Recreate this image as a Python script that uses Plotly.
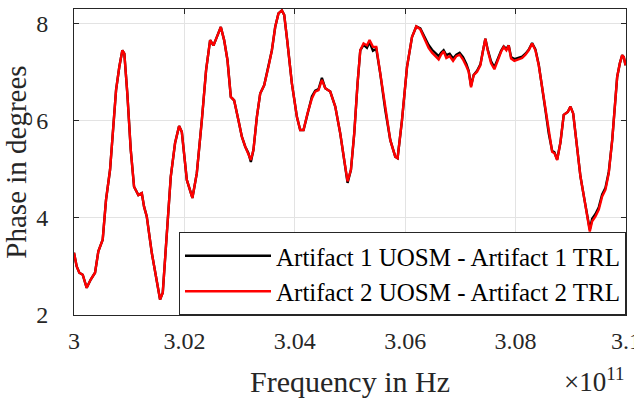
import plotly.graph_objects as go

# Frequency (GHz) sample positions
freq_ghz = [
    300.000, 300.049, 300.096, 300.158, 300.230, 300.303, 300.381, 300.441, 300.520, 300.580,
    300.653, 300.725, 300.762, 300.821, 300.876, 300.912, 300.966, 301.028, 301.088, 301.166,
    301.228, 301.269, 301.318, 301.409, 301.500, 301.559, 301.608, 301.681, 301.753, 301.831,
    301.904, 301.953, 302.044, 302.145, 302.225, 302.316, 302.393, 302.466, 302.526, 302.587,
    302.660, 302.720, 302.780, 302.841, 302.901, 302.979, 303.041, 303.101, 303.160, 303.204,
    303.251, 303.313, 303.373, 303.445, 303.523, 303.585, 303.645, 303.704, 303.766, 303.808,
    303.862, 303.947, 304.038, 304.098, 304.158, 304.230, 304.310, 304.370, 304.430, 304.491,
    304.551, 304.642, 304.733, 304.823, 304.896, 304.956, 305.017, 305.077, 305.137, 305.186,
    305.246, 305.307, 305.354, 305.416, 305.476, 305.548, 305.639, 305.730, 305.820, 305.862,
    305.942, 306.033, 306.123, 306.201, 306.274, 306.364, 306.424, 306.486, 306.546, 306.606,
    306.649, 306.696, 306.745, 306.805, 306.867, 306.927, 306.986, 307.048, 307.108, 307.150,
    307.193, 307.240, 307.302, 307.362, 307.411, 307.452, 307.494, 307.556, 307.616, 307.675,
    307.737, 307.784, 307.833, 307.875, 307.918, 307.978, 308.056, 308.118, 308.178, 308.237,
    308.299, 308.359, 308.419, 308.480, 308.540, 308.600, 308.662, 308.704, 308.753, 308.812,
    308.872, 308.945, 308.994, 309.043, 309.102, 309.175, 309.248, 309.307, 309.344, 309.387,
    309.447, 309.507, 309.568, 309.628, 309.688, 309.750, 309.810, 309.840, 309.888, 309.931,
    309.960, 309.991,
]

# Artifact 2 UOSM - Artifact 2 TRL (red)
phase_art2 = [
    3.28, 3.00, 2.87, 2.83, 2.56, 2.73, 2.87, 3.31, 3.55, 4.37,
    4.99, 6.22, 6.63, 7.11, 7.45, 7.38, 6.56, 5.40, 4.64, 4.47,
    4.51, 4.23, 4.03, 3.28, 2.73, 2.32, 2.46, 3.69, 4.85, 5.54,
    5.89, 5.77, 4.78, 4.41, 4.92, 6.01, 7.04, 7.66, 7.55, 7.72,
    7.93, 7.66, 7.25, 6.49, 6.42, 6.01, 5.67, 5.47, 5.33, 5.19,
    5.40, 6.08, 6.56, 6.73, 7.11, 7.45, 7.93, 8.21, 8.27, 8.18,
    7.66, 6.77, 6.08, 5.81, 5.81, 6.15, 6.46, 6.60, 6.63, 6.84,
    6.67, 6.60, 6.29, 5.74, 5.19, 4.75, 4.99, 5.74, 6.77, 7.45,
    7.59, 7.55, 7.66, 7.52, 7.52, 6.97, 6.22, 5.60, 5.26, 5.23,
    6.01, 7.11, 7.72, 7.94, 7.88, 7.66, 7.50, 7.40, 7.33, 7.26,
    7.36, 7.43, 7.29, 7.33, 7.23, 7.33, 7.36, 7.26, 7.12, 7.01,
    6.69, 6.94, 7.01, 7.14, 7.45, 7.69, 7.45, 7.18, 7.06, 7.25,
    7.42, 7.52, 7.45, 7.55, 7.28, 7.23, 7.26, 7.29, 7.36, 7.45,
    7.59, 7.45, 7.14, 6.70, 6.22, 5.74, 5.36, 5.33, 5.19, 5.55,
    6.12, 6.18, 6.29, 6.15, 5.54, 4.85, 4.37, 3.96, 3.72, 3.93,
    4.03, 4.17, 4.44, 4.58, 4.92, 5.60, 6.43, 6.90, 7.18, 7.35,
    7.31, 7.14,
]

# Artifact 1 UOSM - Artifact 1 TRL (black)
phase_art1 = [
    3.28, 3.00, 2.87, 2.83, 2.56, 2.73, 2.87, 3.31, 3.55, 4.37,
    4.99, 6.22, 6.63, 7.11, 7.45, 7.38, 6.56, 5.40, 4.64, 4.47,
    4.51, 4.23, 4.03, 3.28, 2.73, 2.32, 2.46, 3.69, 4.85, 5.54,
    5.89, 5.77, 4.78, 4.41, 4.92, 6.01, 7.04, 7.66, 7.55, 7.72,
    7.93, 7.66, 7.25, 6.49, 6.42, 6.01, 5.67, 5.47, 5.33, 5.15,
    5.40, 6.08, 6.56, 6.73, 7.11, 7.45, 7.93, 8.21, 8.27, 8.18,
    7.66, 6.77, 6.08, 5.81, 5.81, 6.15, 6.50, 6.62, 6.65, 6.88,
    6.67, 6.60, 6.29, 5.74, 5.19, 4.72, 4.99, 5.74, 6.77, 7.45,
    7.56, 7.50, 7.62, 7.44, 7.48, 6.97, 6.22, 5.60, 5.26, 5.23,
    6.01, 7.11, 7.72, 7.94, 7.90, 7.70, 7.56, 7.46, 7.40, 7.33,
    7.40, 7.45, 7.35, 7.38, 7.28, 7.36, 7.40, 7.31, 7.17, 7.03,
    6.72, 6.94, 7.03, 7.16, 7.45, 7.69, 7.47, 7.22, 7.10, 7.27,
    7.44, 7.53, 7.48, 7.55, 7.31, 7.27, 7.30, 7.32, 7.38, 7.46,
    7.60, 7.47, 7.16, 6.72, 6.22, 5.74, 5.38, 5.35, 5.20, 5.55,
    6.12, 6.18, 6.29, 6.15, 5.54, 4.85, 4.37, 3.96, 3.76, 3.98,
    4.08, 4.22, 4.48, 4.62, 4.95, 5.60, 6.43, 6.90, 7.18, 7.35,
    7.31, 7.14,
]

x_tickvals_ghz = [300, 302, 304, 306, 308, 310]
x_ticktext = ["3", "3.02", "3.04", "3.06", "3.08", "3.1"]
y_tickvals = [2, 4, 6, 8]

freq_hz = [f * 1e9 for f in freq_ghz]

FONT = "Liberation Serif"
AX = "#262626"
GRID = "#e3e3e3"

fig = go.Figure()
fig.add_trace(go.Scatter(x=freq_hz, y=phase_art1, mode="lines",
                         name="Artifact 1 UOSM - Artifact 1 TRL",
                         line=dict(color="#000000", width=2.4)))
fig.add_trace(go.Scatter(x=freq_hz, y=phase_art2, mode="lines",
                         name="Artifact 2 UOSM - Artifact 2 TRL",
                         line=dict(color="#ff0000", width=2.4)))

fig.update_layout(
    width=634, height=398,
    margin=dict(l=74, r=8, t=9, b=83),
    paper_bgcolor="white", plot_bgcolor="white",
    font=dict(family=FONT, size=24, color=AX),
    showlegend=True,
    legend=dict(
        x=1, y=0, xanchor="right", yanchor="bottom",
        bgcolor="white", bordercolor=AX, borderwidth=1,
        font=dict(family=FONT, size=25, color="#000000"),
        itemwidth=86, tracegroupgap=0,
    ),
    xaxis=dict(
        range=[3.0e11, 3.1e11],
        tickvals=[v * 1e9 for v in x_tickvals_ghz],
        ticktext=x_ticktext,
        showgrid=True, gridcolor=GRID, gridwidth=1,
        showline=True, linecolor=AX, linewidth=1, mirror="ticks",
        ticks="inside", ticklen=5, tickcolor=AX,
        tickfont=dict(family=FONT, size=24, color=AX),
        ticklabeloverflow="allow",
        ticklabelstandoff=4,
        title=dict(text="Frequency in Hz", font=dict(family=FONT, size=30, color=AX), standoff=22),
        zeroline=False, automargin=False,
    ),
    yaxis=dict(
        range=[2, 8.3],
        tickvals=y_tickvals,
        showgrid=True, gridcolor=GRID, gridwidth=1,
        showline=True, linecolor=AX, linewidth=1, mirror="ticks",
        ticks="inside", ticklen=5, tickcolor=AX,
        tickfont=dict(family=FONT, size=24, color=AX),
        ticklabelstandoff=20,
        title=dict(text="Phase in degrees", font=dict(family=FONT, size=29, color=AX), standoff=6),
        zeroline=False, automargin=False,
    ),
    annotations=[dict(
        text="×10<sup>11</sup>", xref="paper", yref="paper",
        x=1.0, y=-0.275, xanchor="right", yanchor="bottom",
        showarrow=False, font=dict(family=FONT, size=27, color=AX),
    )],
)

fig.write_html("out.html")
